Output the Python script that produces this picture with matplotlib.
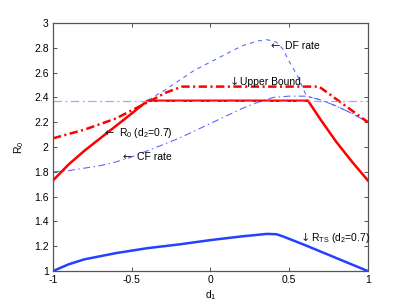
import matplotlib
matplotlib.use("Agg")
import matplotlib.pyplot as plt
import matplotlib.transforms as mtransforms
import numpy as np

plt.rcParams['font.family'] = ['Liberation Sans', 'DejaVu Sans']
plt.rcParams['mathtext.fontset'] = 'custom'
plt.rcParams['mathtext.rm'] = 'Liberation Sans'
plt.rcParams['mathtext.it'] = 'Liberation Sans'
plt.rcParams['lines.scale_dashes'] = False

######## Datos ########
# R0 (d2=0.7), rojo continuo
r0_x = [-1.0, -0.9, -0.8, -0.7, -0.6, -0.5, -0.4, 0.62, 0.7, 0.8, 0.9, 1.0]
r0_y = [1.73, 1.86, 1.97, 2.07, 2.17, 2.27, 2.373, 2.373, 2.22, 2.04, 1.88, 1.73]

# Upper Bound, rojo punto-raya
ub_x = [-1.0, -0.8, -0.6, -0.4, -0.28, -0.18, 0.69, 1.0]
ub_y = [2.07, 2.14, 2.23, 2.36, 2.44, 2.487, 2.487, 2.20]

# DF rate, azul discontinuo (a la izquierda coincide con R0)
df_x = [-1.0, -0.9, -0.8, -0.7, -0.6, -0.5, -0.4, -0.3, -0.2, -0.1, 0.0, 0.1, 0.2, 0.3, 0.36,
        0.42, 0.46, 0.5, 0.55, 0.61, 0.7, 0.8, 0.9, 1.0]
df_y = [1.73, 1.86, 1.97, 2.07, 2.17, 2.27, 2.375, 2.45, 2.535, 2.62, 2.685, 2.75, 2.815, 2.855, 2.865,
        2.845, 2.79, 2.69, 2.58, 2.41, 2.38, 2.33, 2.27, 2.20]

# CF rate
cf_x = [-1.0, -0.9, -0.8, -0.7, -0.6, -0.5, -0.4, -0.3, -0.2, -0.1, 0.0, 0.1, 0.2, 0.3, 0.4,
        0.5, 0.61, 0.7, 0.8, 0.9, 1.0]
cf_y = [1.80, 1.81, 1.83, 1.85, 1.88, 1.92, 1.97, 2.02, 2.07, 2.13, 2.19, 2.25, 2.31, 2.36, 2.40,
        2.41, 2.41, 2.38, 2.33, 2.27, 2.20]

# R_TS (d2=0.7), azul continuo
rts_x = [-1.0, -0.9, -0.8, -0.7, -0.6, -0.5, -0.4, -0.2, 0.0, 0.2, 0.36, 0.42, 0.46, 0.6, 0.8, 1.0]
rts_y = [1.0, 1.055, 1.095, 1.12, 1.145, 1.165, 1.185, 1.215, 1.25, 1.28, 1.30, 1.297, 1.28, 1.21, 1.105, 1.0]

nivel = 2.375  # linea horizontal

# etiquetas: (x, y, flecha, texto)
etiquetas = [(0.38, 2.812, '\u2190', 'DF rate'),
             (0.12, 2.525, '\u2193', 'Upper Bound'),
             (-0.67, 2.11, '\u2190', 'R$_0$ (d$_2$=0.7)'),
             (-0.56, 1.92, '\u2190', 'CF rate'),
             (0.575, 1.265, '\u2193', 'R$_{TS}$ (d$_2$=0.7)')]

fig = plt.figure(figsize=(4.07, 3.06), dpi=100)
ax = fig.add_axes([0.13, 0.114, 0.774, 0.811])

ax.plot(df_x, df_y, color='#5a6cff', linewidth=0.8, dashes=(3, 3))
ax.plot(cf_x, cf_y, color='#5a6cff', linewidth=0.8, dashes=(5, 2.5, 1, 2.5))
ax.plot(r0_x, r0_y, color='r', linewidth=1.8, solid_joinstyle='miter')
ax.plot(ub_x, ub_y, color='r', linewidth=1.8, dashes=(6, 2.5, 1.5, 2.5))
ax.axhline(nivel, color='#8c9cff', linewidth=0.9, dashes=(6, 2.5, 1.5, 2.5), alpha=0.85)
ax.plot(rts_x, rts_y, color='#2540ff', linewidth=1.8)

fs = 7.5
for x, y, flecha, texto in etiquetas:
    ax.text(x, y, flecha, fontsize=8, family='DejaVu Sans', va='center', color='#222222')
    if flecha == '\u2190':
        dx = 10.5
    else:
        dx = 7.5
    trans = mtransforms.offset_copy(ax.transData, fig=fig, x=dx, y=0, units='points')
    ax.text(x, y, texto, fontsize=fs, va='center', transform=trans)

ax.set_xlim(-1, 1)
ax.set_ylim(1, 3)
ax.set_xticks([-1, -0.5, 0, 0.5, 1])
ax.set_xticklabels(['-1', '-0.5', '0', '0.5', '1'])
ax.set_yticks(np.arange(1, 3.01, 0.2))
ax.set_yticklabels(['1', '1.2', '1.4', '1.6', '1.8', '2', '2.2', '2.4', '2.6', '2.8', '3'])
ax.tick_params(direction='in', length=3, width=0.6, labelsize=fs, top=True, right=True,
               colors='#333333', labelcolor='k', pad=3)
for s in ax.spines.values():
    s.set_color('#555555')
    s.set_linewidth(0.9)

ax.set_xlabel('d$_1$', fontsize=fs, labelpad=2)
ax.set_ylabel('R$_0$', fontsize=fs, labelpad=6)

fig.savefig('out.png', dpi=100)
